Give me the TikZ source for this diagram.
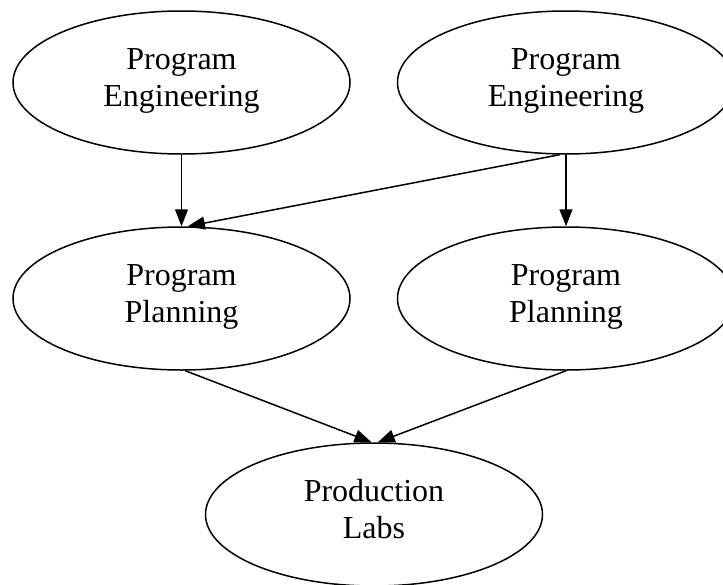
\documentclass[tikz,border=0pt]{standalone}
\usepackage{fontspec}
\setmainfont{Liberation Serif}
\usetikzlibrary{shapes.geometric,arrows.meta}
\newcommand\myTop{\rule{0pt}{24pt}}
\newcommand\myBot{\rule[-13pt]{0pt}{13pt}}
\begin{document}
\begin{tikzpicture}[x=1pt,y=-1pt,
  ell/.style={draw, ellipse, line width=1.5pt, minimum width=337pt, minimum height=143pt,
    inner sep=0pt, align=center, font=\fontsize{32}{37}\selectfont},
  conn/.style={line width=1.5pt, -{Triangle[length=17pt,width=13pt]}}]
\useasboundingbox (0,0) rectangle (723,584);
\clip (0,0) rectangle (723,584);
\node[ell] (e1) at (181.5,82.5) {\myTop Program\\Engineering\myBot};
\node[ell] (e2) at (566,82.5) {\myTop Program\\Engineering\myBot};
\node[ell] (e3) at (181.5,298.5) {\myTop Program\\Planning\myBot};
\node[ell] (e4) at (566,298.5) {\myTop Program\\Planning\myBot};
\node[ell] (e5) at (374,514.5) {\myTop Production\\Labs\myBot};
\draw[conn] (e1.south) -- (e3.north);
\draw[conn] (e2.265) -- (e3.85);
\draw[conn] (e2.south) -- (e4.north);
\draw[conn] (e3.273) -- (e5.92.5);
\draw[conn] (e4.south) -- (e5.87);
\end{tikzpicture}
\end{document}
